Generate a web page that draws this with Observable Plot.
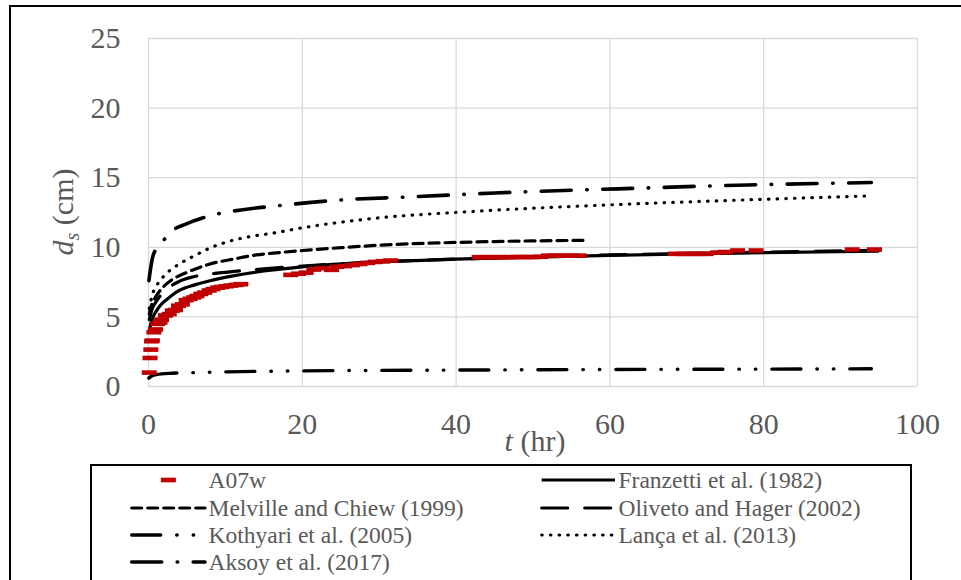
<!DOCTYPE html>
<html><head><meta charset="utf-8">
<script src="https://cdn.jsdelivr.net/npm/d3@7"></script>
<script src="https://cdn.jsdelivr.net/npm/@observablehq/plot@0.6"></script>
<style>
body{margin:0;background:#fff;overflow:hidden;}
#wrap{position:relative;width:961px;height:580px;overflow:hidden;background:#fff;}
#chart{position:absolute;left:0;top:0;}
#frame{position:absolute;left:9px;top:5px;width:1000px;height:700px;border:2px solid #000;box-sizing:border-box;pointer-events:none;}
#legend{position:absolute;left:90px;top:464px;}
</style></head>
<body><div id="wrap"><div id="chart"></div><div id="frame"></div><div id="legend"></div></div>
<script>
// ---------- data ----------
const xTicks = [0, 20, 40, 60, 80, 100];
const yTicks = [0, 5, 10, 15, 20, 25];

const seriesNames = ["A07w", "Franzetti et al. (1982)", "Melville and Chiew (1999)", "Oliveto and Hager (2002)",
  "Kothyari et al. (2005)", "Lança et al. (2013)", "Aksoy et al. (2017)"];

// measured data A07w
const a07T = [0.1, 0.2, 0.3, 0.4, 0.5, 0.7, 0.9, 1.2, 1.5, 1.7, 2.2, 2.7, 3.1, 3.5, 3.9, 4.4, 4.9, 5.4, 5.9, 6.3, 6.8, 7.3, 7.9, 8.4, 9.0, 9.5, 10.1, 10.7, 11.4, 12.0,
  18.5, 19.5, 20.5, 21.5, 22.5, 23.8, 24.5, 25.5, 26.5, 27.5, 28.5, 29.5, 30.5, 31.5,
  43, 44, 45, 46, 47, 48, 49, 50, 51, 52, 53, 54, 55, 56,
  68.5, 69.5, 70.5, 71.5, 72.5, 74, 75, 76.6, 79, 91.5, 94.4];
const a07D = [1.0, 2.05, 2.65, 3.25, 3.3, 3.9, 4.1, 4.5, 4.6, 4.8, 5.1, 5.2, 5.45, 5.5, 5.8, 5.9, 6.2, 6.3, 6.4, 6.5, 6.65, 6.75, 6.9, 7.0, 7.1, 7.15, 7.2, 7.25, 7.3, 7.35,
  8.02, 8.1, 8.18, 8.4, 8.5, 8.38, 8.6, 8.65, 8.72, 8.8, 8.88, 8.95, 9.0, 9.05,
  9.29, 9.29, 9.29, 9.29, 9.29, 9.3, 9.3, 9.3, 9.32, 9.4, 9.4, 9.4, 9.4, 9.4,
  9.53, 9.53, 9.53, 9.53, 9.53, 9.62, 9.66, 9.77, 9.77, 9.84, 9.84];

const franzettiT = [0.1, 0.3, 0.6, 1, 1.5, 2.5, 4, 6, 8, 11, 15, 20, 30, 40, 50, 60, 70, 80, 95];
const franzettiD = [3.9, 4.5, 5.0, 5.4, 5.8, 6.3, 6.9, 7.3, 7.6, 7.95, 8.3, 8.6, 8.95, 9.15, 9.3, 9.42, 9.52, 9.62, 9.72];

const melvilleT = [0.1, 0.3, 0.6, 1, 2, 3, 5, 8, 11, 14, 17, 20, 25, 30, 40, 50, 56.5];
const melvilleD = [5.2, 5.7, 6.1, 6.5, 7.2, 7.65, 8.2, 8.8, 9.15, 9.45, 9.62, 9.77, 9.97, 10.15, 10.35, 10.46, 10.5];

const olivetoT = [0.1, 0.5, 1, 2, 4, 6, 10, 15, 20, 30, 40, 60, 80, 95];
const olivetoD = [4.8, 5.6, 6.1, 6.8, 7.55, 7.9, 8.2, 8.45, 8.65, 8.95, 9.15, 9.45, 9.65, 9.78];

const kothyariT = [0.05, 0.5, 1, 3, 6, 10, 20, 40, 60, 80, 94];
const kothyariD = [0.6, 0.78, 0.85, 0.95, 1.0, 1.05, 1.12, 1.18, 1.22, 1.25, 1.27];

const lancaT = [0.1, 0.5, 1, 1.5, 2.5, 4, 6, 8, 10, 13, 16, 20, 28, 43, 60, 80, 94];
const lancaD = [5.6, 6.6, 7.2, 7.6, 8.2, 8.8, 9.4, 9.95, 10.35, 10.75, 11.0, 11.4, 12.0, 12.6, 13.05, 13.45, 13.7];

const aksoyT = [0.05, 0.5, 1, 1.8, 3, 5, 7, 9, 13, 17, 25, 34, 45, 61, 78, 94];
const aksoyD = [7.6, 9.2, 9.9, 10.4, 11.15, 11.7, 12.1, 12.4, 12.75, 13.0, 13.4, 13.62, 13.9, 14.2, 14.48, 14.65];

// ---------- styles ----------
const RED = "#C00000";
const GRAY = "#595959";
const FONT = '"Liberation Serif", "DejaVu Serif", serif';
const lineStyles = {
  "Franzetti et al. (1982)": {dash: null, cap: "butt", w: 3.2},
  "Melville and Chiew (1999)": {dash: "10,6", cap: "round", w: 3.2},
  "Oliveto and Hager (2002)": {dash: "26,17", cap: "round", w: 3.2},
  "Kothyari et al. (2005)": {dash: "29,16,0.5,16,0.5,16", cap: "round", w: 3.4},
  "Lança et al. (2013)": {dash: "0.5,8.2", cap: "round", w: 3.2},
  "Aksoy et al. (2017)": {dash: "30,15.5,0.5,15.5", cap: "round", w: 3.6}
};

const zip = (T, D, name) => T.map((t, i) => ({t, d: D[i], name}));
const curves = [
  zip(franzettiT, franzettiD, seriesNames[1]),
  zip(melvilleT, melvilleD, seriesNames[2]),
  zip(olivetoT, olivetoD, seriesNames[3]),
  zip(kothyariT, kothyariD, seriesNames[4]),
  zip(lancaT, lancaD, seriesNames[5]),
  zip(aksoyT, aksoyD, seriesNames[6])
];
const a07 = zip(a07T, a07D, seriesNames[0]);

const dashSymbol = {draw(ctx) { ctx.moveTo(-7.5, -2.3); ctx.lineTo(7.5, -2.3); ctx.lineTo(7.5, 2.3); ctx.lineTo(-7.5, 2.3); ctx.closePath(); }};

const lineMarks = curves.map(c => {
  const s = lineStyles[c[0].name];
  return Plot.line(c, {x: "t", y: "d", stroke: "#000", strokeWidth: s.w, strokeDasharray: s.dash || undefined,
    strokeLinecap: s.cap, curve: "monotone-x"});
});

const svg = Plot.plot({
  width: 961, height: 465,
  marginLeft: 148, marginRight: 44, marginTop: 38, marginBottom: 79,
  x: {domain: [0, 100]},
  y: {domain: [0, 25]},
  style: {background: "transparent", color: GRAY},
  marks: [
    Plot.gridX(xTicks, {stroke: "#d9d9d9", strokeOpacity: 1, strokeWidth: 1.3}),
    Plot.gridY(yTicks, {stroke: "#d9d9d9", strokeOpacity: 1, strokeWidth: 1.3}),
    Plot.axisX(xTicks, {tickSize: 0, tickPadding: 26, fontSize: 30, label: null, tickFormat: d => String(d), fill: GRAY}),
    Plot.axisY(yTicks, {tickSize: 0, tickPadding: 28, fontSize: 30, label: null, tickFormat: d => String(d), fill: GRAY}),
    ...lineMarks,
    Plot.dot(a07, {x: "t", y: "d", symbol: dashSymbol, fill: RED, stroke: null, r: 3})
  ]
});
svg.style.fontFamily = FONT;
document.getElementById("chart").appendChild(svg);
d3.select(svg).selectAll("text").style("font-family", FONT);

// axis titles
const s = d3.select(svg);
const yl = s.append("text").attr("transform", "translate(73,212) rotate(-90)")
  .attr("text-anchor", "middle").attr("fill", GRAY).style("font-family", FONT).style("font-size", "30px");
yl.append("tspan").attr("font-style", "italic").text("d");
yl.append("tspan").attr("font-style", "italic").attr("font-size", "20px").attr("dy", 6).text("s");
yl.append("tspan").attr("dy", -6).text(" (cm)");
const xl = s.append("text").attr("x", 535).attr("y", 451)
  .attr("text-anchor", "middle").attr("fill", GRAY).style("font-family", FONT).style("font-size", "30px");
xl.append("tspan").attr("font-style", "italic").text("t");
xl.append("tspan").text(" (hr)");

// legend
const leg = d3.select("#legend").append("svg").attr("width", 822).attr("height", 140);
leg.append("rect").attr("x", 1).attr("y", 1).attr("width", 820).attr("height", 200)
  .attr("fill", "#fff").attr("stroke", "#000").attr("stroke-width", 2);
const rowY = [16, 44, 71, 98];
const colX = [41.7, 451.7];
const sampleLen = 73.3;
seriesNames.forEach((name, i) => {
  const row = Math.floor(i / 2), col = i % 2;
  const y = rowY[row], x0 = colX[col];
  if (name === "A07w") {
    leg.append("rect").attr("x", x0 + sampleLen / 2 - 7.5).attr("y", y - 2.3).attr("width", 15).attr("height", 4.6).attr("fill", RED);
  } else {
    const st = lineStyles[name];
    leg.append("line").attr("x1", x0).attr("x2", x0 + sampleLen).attr("y1", y).attr("y2", y)
      .attr("stroke", "#000").attr("stroke-width", st.w).attr("stroke-linecap", st.cap)
      .attr("stroke-dasharray", st.dash);
  }
  leg.append("text").attr("x", x0 + sampleLen + 3.5).attr("y", y + 7.8).attr("fill", GRAY)
    .style("font-family", FONT).style("font-size", "23.5px").text(name);
});
</script></body></html>
